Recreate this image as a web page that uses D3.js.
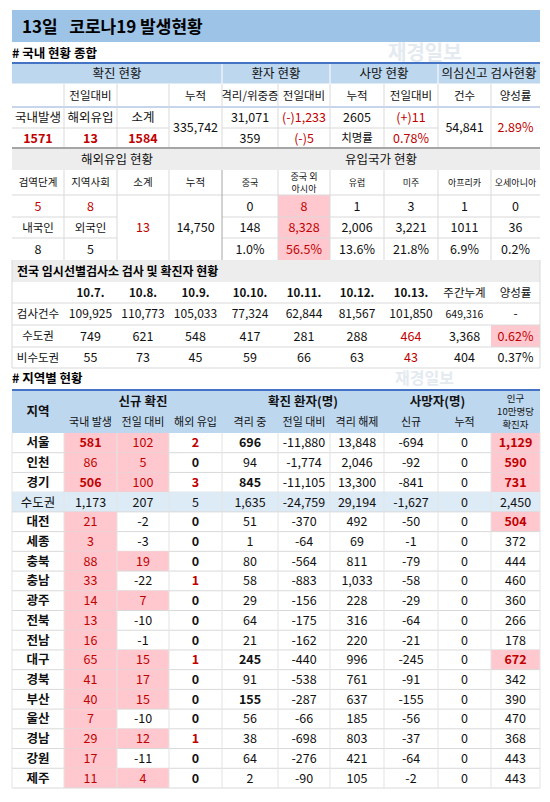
<!DOCTYPE html>
<html><head><meta charset="utf-8">
<script src="https://cdn.jsdelivr.net/npm/d3@7"></script>
<style>body{margin:0;background:#fff}svg{font-family:"Noto Sans CJK KR","Noto Sans",sans-serif}</style>
</head><body><svg id="c" width="550" height="802"></svg>
<script>
// ---- data ----
const confirmedDaily = {domestic:1571, imported:13, subtotal:1584};
const confirmedCum = "335,742";
const isolating = ["31,071","(-)1,233","359","(-)5"];
const deaths = ["2605","(+)11","치명률","0.78%"];
const tests = ["54,841","2.89%"];
const importStage = ["5","8"], importNat = ["8","5"], importSub = "13", importCum = "14,750";
const originCountries = ["중국","중국 외\n아시아","유럽","미주","아프리카","오세아니아"];
const originDaily = ["0","8","1","3","1","0"];
const originCum = ["148","8,328","2,006","3,221","1011","36"];
const originPct = ["1.0%","56.5%","13.6%","21.8%","6.9%","0.2%"];
const testDates = ["10.7.","10.8.","10.9.","10.10.","10.11.","10.12.","10.13.","주간누계","양성률"];
const testCounts = ["109,925","110,773","105,033","77,324","62,844","81,567","101,850","649,316","-"];
const metroCases = ["749","621","548","417","281","288","464","3,368","0.62%"];
const nonMetroCases = ["55","73","45","59","66","63","43","404","0.37%"];
const regions = ["서울","인천","경기","수도권","대전","세종","충북","충남","광주","전북","전남","대구","경북","부산","울산","경남","강원","제주"];
const regDomestic = [581,86,506,1173,21,3,88,33,14,13,16,65,41,40,7,29,17,11];
const regChange = [102,5,100,207,-2,-3,19,-22,7,-10,-1,15,17,15,-10,12,-11,4];
const regImported = [2,0,3,5,0,0,0,1,0,0,0,1,0,0,0,1,0,0];
const regIsolating = [696,94,845,1635,51,1,80,58,29,64,21,245,91,155,56,38,64,2];
const regIsoChange = [-11880,-1774,-11105,-24759,-370,-64,-564,-883,-156,-175,-162,-440,-538,-287,-66,-698,-276,-90];
const regReleased = [13848,2046,13300,29194,492,69,811,1033,228,316,220,996,761,637,185,803,421,105];
const regDeathNew = [-694,-92,-841,-1627,-50,-1,-79,-58,-29,-64,-21,-245,-91,-155,-56,-37,-64,-2];
const regDeathCum = [0,0,0,0,0,0,0,0,0,0,0,0,0,0,0,0,0,0];
const regPer100k = [1129,590,731,2450,504,372,444,460,360,266,178,672,342,390,470,368,443,443];

// ---- layout ----
const svg = d3.select("#c");
const X = d3.scaleOrdinal().domain(d3.range(11)).range([12,64,117,169,222,278,330,384,438,491,540]);
const RED="#c00000", PINK="#ffc7ce", BLUE="#bdd7ee", GRAY="#ededed", LINE="#d9d9d9";
const fmt = d3.formatLocale({decimal:".",thousands:",",grouping:[3],currency:["",""],minus:"-"}).format(",");

function cell(c0,c1,y0,y1,text,o={}){
  const x0=X(c0), x1=X(c1);
  if(o.bg) svg.append("rect").attr("x",x0).attr("y",y0).attr("width",x1-x0).attr("height",y1-y0).attr("fill",o.bg);
  if(text===undefined||text===null) return;
  const lines=String(text).split("\n"), fs=o.fs||12.5, lh=o.lh||fs*1.25;
  lines.forEach((l,i)=>svg.append("text").attr("x",(x0+x1)/2).attr("text-anchor","middle")
    .attr("font-size",fs).attr("font-weight",o.bold?"bold":"normal").attr("fill",o.color||"#111")
    .attr("y",(y0+y1)/2+fs*0.36+(i-(lines.length-1)/2)*lh).text(l));
}
function hline(y,c0=0,c1=10,col=LINE,w=1){svg.append("line").attr("x1",X(c0)).attr("x2",X(c1)).attr("y1",y).attr("y2",y).attr("stroke",col).attr("stroke-width",w);}
function vline(c,y0,y1,col=LINE){svg.append("line").attr("x1",X(c)).attr("x2",X(c)).attr("y1",y0).attr("y2",y1).attr("stroke",col);}

// title
svg.append("rect").attr("x",12).attr("y",10).attr("width",528).attr("height",32).attr("fill","#9dc3e6");
svg.append("text").attr("x",22).attr("y",33).attr("font-size",17).attr("font-weight","bold").style("white-space","pre").text("13일   코로나19 발생현황");
svg.append("text").attr("x",12).attr("y",58).attr("font-size",12.5).attr("font-weight","bold").text("# 국내 현황 종합");
svg.append("text").attr("x",388).attr("y",60).attr("font-size",20).attr("font-weight","bold").attr("fill","#c9d6e3").attr("opacity",0.5).text("재경일보");
svg.append("text").attr("x",395).attr("y",384).attr("font-size",16).attr("font-weight","bold").attr("fill","#c9d6e3").attr("opacity",0.5).text("재경일보");

// section 1
const Y1=[63,84,107,128,148];
cell(0,4,Y1[0],Y1[1],"확진 현황",{bg:BLUE});cell(4,6,Y1[0],Y1[1],"환자 현황",{bg:BLUE});
cell(6,8,Y1[0],Y1[1],"사망 현황",{bg:BLUE});cell(8,10,Y1[0],Y1[1],"의심신고 검사현황",{bg:BLUE});
["전일대비",null,null,"누적","격리/위중증","전일대비","누적","전일대비","건수","양성률"].forEach((t,i)=>{
  if(i===0) cell(0,3,Y1[1],Y1[2],t,{fs:11.5}); else if(t) cell(i,i+1,Y1[1],Y1[2],t,{fs:11.5});});
cell(0,1,Y1[2],Y1[3],"국내발생");cell(1,2,Y1[2],Y1[3],"해외유입");cell(2,3,Y1[2],Y1[3],"소계");
[confirmedDaily.domestic,confirmedDaily.imported,confirmedDaily.subtotal].forEach((v,i)=>cell(i,i+1,Y1[3],Y1[4],v,{bold:true,color:RED}));
cell(3,4,Y1[2],Y1[4],confirmedCum);
cell(4,5,Y1[2],Y1[3],isolating[0]);cell(5,6,Y1[2],Y1[3],isolating[1],{color:RED});
cell(4,5,Y1[3],Y1[4],isolating[2]);cell(5,6,Y1[3],Y1[4],isolating[3],{color:RED});
cell(6,7,Y1[2],Y1[3],deaths[0]);cell(7,8,Y1[2],Y1[3],deaths[1],{color:RED});
cell(6,7,Y1[3],Y1[4],deaths[2],{fs:11.5});cell(7,8,Y1[3],Y1[4],deaths[3],{color:RED});
cell(8,9,Y1[2],Y1[4],tests[0]);cell(9,10,Y1[2],Y1[4],tests[1],{color:RED});
hline(Y1[1],0,10,"#fff");hline(Y1[2],0,10,"#8eaadb");hline(Y1[3],0,3);hline(Y1[3],4,8);
[1,2,3,4,5,6,7,8,9].forEach(c=>vline(c,Y1[1],Y1[4]));
[4,6,8].forEach(c=>vline(c,Y1[0],Y1[1],"#fff"));
hline(Y1[0],0,10,"#4472c4",2);

// section 2
const Y2=[148,170,195,217,238,260];
cell(0,4,Y2[0],Y2[1],"해외유입 현황",{bg:GRAY});cell(4,10,Y2[0],Y2[1],"유입국가 현황",{bg:GRAY});
["검역단계","지역사회","소계","누적"].forEach((t,i)=>cell(i,i+1,Y2[1],Y2[2],t,{fs:10.5}));
originCountries.forEach((t,i)=>cell(4+i,5+i,Y2[1],Y2[2],t,{fs:9,lh:12}));
cell(0,1,Y2[2],Y2[3],importStage[0],{color:RED});cell(1,2,Y2[2],Y2[3],importStage[1],{color:RED});
cell(0,1,Y2[3],Y2[4],"내국인",{fs:11.5});cell(1,2,Y2[3],Y2[4],"외국인",{fs:11.5});
cell(0,1,Y2[4],Y2[5],importNat[0]);cell(1,2,Y2[4],Y2[5],importNat[1]);
cell(2,3,Y2[2],Y2[5],importSub,{color:RED});cell(3,4,Y2[2],Y2[5],importCum);
[originDaily,originCum,originPct].forEach((arr,r)=>arr.forEach((v,i)=>cell(4+i,5+i,Y2[2+r],Y2[3+r],v,{bg:i===1?PINK:null,color:i===1?RED:"#111"})));
hline(Y2[2],0,10);hline(Y2[3],0,2);hline(Y2[3],4,10);hline(Y2[4],0,2);hline(Y2[4],4,10);
[1,2,3,5,6,7,8,9].forEach(c=>vline(c,Y2[1],Y2[5]));vline(4,Y2[1],Y2[5],"#a6a6a6");
hline(Y2[0],0,10,"#a6a6a6",2);

// section 3
const Y3=[260,282,303,325,347,368];
svg.append("rect").attr("x",12).attr("y",Y3[0]).attr("width",528).attr("height",22).attr("fill",GRAY);
svg.append("text").attr("x",17).attr("y",Y3[0]+15.5).attr("font-size",12).attr("font-weight","bold").text("전국 임시선별검사소 검사 및 확진자 현황");
testDates.forEach((t,i)=>cell(1+i,2+i,Y3[1],Y3[2],t,{bold:i<7,fs:11.5}));
cell(0,1,Y3[2],Y3[3],"검사건수",{fs:11.5});cell(0,1,Y3[3],Y3[4],"수도권",{fs:11.5});cell(0,1,Y3[4],Y3[5],"비수도권",{fs:11.5});
testCounts.forEach((v,i)=>cell(1+i,2+i,Y3[2],Y3[3],v,{fs:i===7?10.5:12}));
metroCases.forEach((v,i)=>cell(1+i,2+i,Y3[3],Y3[4],v,{bg:i===8?PINK:null,color:(i===6||i===8)?RED:"#111"}));
nonMetroCases.forEach((v,i)=>cell(1+i,2+i,Y3[4],Y3[5],v,{color:i===6?RED:"#111"}));
[2,3,4].forEach(r=>hline(Y3[r]));hline(Y3[5]);vline(0,Y3[0],Y3[5]);vline(10,Y3[0],Y3[5]);

// section 4
svg.append("text").attr("x",12).attr("y",383).attr("font-size",12.5).attr("font-weight","bold").text("# 지역별 현황");
const H0=390,H1=412,H2=433;
svg.append("rect").attr("x",12).attr("y",H0).attr("width",528).attr("height",H2-H0).attr("fill",BLUE);
cell(0,1,H0,H2,"지역",{bold:true});cell(1,4,H0,H1,"신규 확진",{bold:true});cell(4,7,H0,H1,"확진 환자(명)",{bold:true});
cell(7,9,H0,H1,"사망자(명)",{bold:true});cell(9,10,H0,H2,"인구\n10만명당\n확진자",{fs:9.5,lh:13});
["국내 발생","전일 대비","해외 유입","격리 중","전일 대비","격리 해제","신규","누적"].forEach((t,i)=>cell(1+i,2+i,H1,H2,t,{fs:11}));
hline(H0,0,10,"#4472c4",2);
const rowY=d3.scaleBand().domain(regions).range([H2,788]);
regions.forEach((r,i)=>{
  const y0=rowY(r),y1=y0+rowY.bandwidth(),metro=r==="수도권";
  if(metro) svg.append("rect").attr("x",12).attr("y",y0).attr("width",528).attr("height",y1-y0).attr("fill","#ddebf7");
  cell(0,1,y0,y1,r,{bold:!metro,fs:12.5});
  cell(1,2,y0,y1,fmt(regDomestic[i]),{bg:metro?null:PINK,color:metro?"#111":RED,bold:regDomestic[i]>100&&!metro});
  const up=regChange[i]>0&&!metro;
  cell(2,3,y0,y1,fmt(regChange[i]),{bg:up?PINK:null,color:up?RED:"#111"});
  cell(3,4,y0,y1,regImported[i],{bold:!metro,color:(!metro&&regImported[i]>0)?RED:"#111"});
  cell(4,5,y0,y1,fmt(regIsolating[i]),{bold:!metro&&regIsolating[i]>100});
  cell(5,6,y0,y1,fmt(regIsoChange[i]));cell(6,7,y0,y1,fmt(regReleased[i]));
  cell(7,8,y0,y1,fmt(regDeathNew[i]));cell(8,9,y0,y1,regDeathCum[i]);
  const hi=!metro&&regPer100k[i]>500;
  cell(9,10,y0,y1,fmt(regPer100k[i]),{bg:hi?PINK:null,color:hi?RED:"#111",bold:hi});
  hline(y1);
});
d3.range(0,11).forEach(c=>vline(c,H2,788,"#e3e3e3"));
</script></body></html>
